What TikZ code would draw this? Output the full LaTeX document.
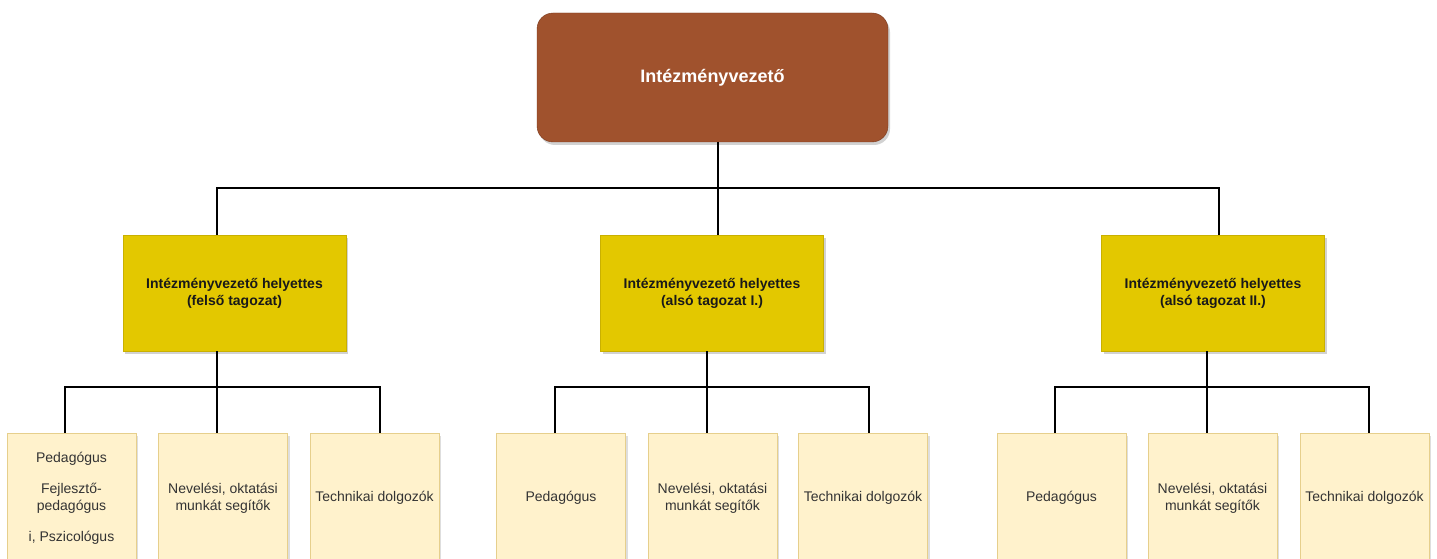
\documentclass[tikz,border=0pt]{standalone}
\usepackage{fontspec}
\setmainfont{Liberation Sans}
\usetikzlibrary{shadows}
\definecolor{sienna}{HTML}{A0522D}
\definecolor{siennaline}{HTML}{7A3A1E}
\definecolor{gold}{HTML}{E3C800}
\definecolor{goldline}{HTML}{C9B000}
\definecolor{cream}{HTML}{FFF2CC}
\definecolor{creamline}{HTML}{E6CF8C}
\definecolor{txt}{HTML}{333333}
\tikzset{
  topbox/.style={draw=siennaline, fill=sienna, rounded corners=16pt, minimum width=351pt, minimum height=129pt,
    text=white, font=\fontsize{18}{22}\selectfont\bfseries, align=center,
    drop shadow={shadow xshift=2pt, shadow yshift=-3pt, fill=black!35, opacity=0.5}},
  midbox/.style={draw=goldline, fill=gold, minimum width=223pt, minimum height=116pt,
    text=black!90, font=\fontsize{14}{17}\selectfont\bfseries, align=center,
    drop shadow={shadow xshift=2pt, shadow yshift=-3pt, fill=black!35, opacity=0.5}},
  subbox/.style={draw=creamline, fill=cream, minimum width=129pt, minimum height=130pt,
    text=txt, font=\fontsize{14}{17}\selectfont, align=center,
    drop shadow={shadow xshift=2pt, shadow yshift=-3pt, fill=black!25, opacity=0.5}},
  conn/.style={draw=black, line width=2pt}
}
\begin{document}
\begin{tikzpicture}[x=1pt,y=-1pt]
\clip (0,0) rectangle (1437,559);
\fill[white] (0,0) rectangle (1437,559);

\node[topbox] (top) at (712.5,77.5) {Intézményvezető};

\node[midbox] (m1) at (234.5,293) {Intézményvezető helyettes\\(felső tagozat)};
\node[midbox] (m2) at (712,293) {Intézményvezető helyettes\\(alsó tagozat I.)};
\node[midbox] (m3) at (1213,293) {Intézményvezető helyettes\\(alsó tagozat II.)};

\node[subbox] (b11) at (71.5,498) {Pedagógus\\[14pt]Fejlesztő-\\pedagógus\\[14pt]i, Pszicológus};
\node[subbox] (b12) at (223,498) {Nevelési, oktatási\\munkát segítők};
\node[subbox] (b13) at (374.5,498) {Technikai dolgozók};

\node[subbox] (b21) at (561,498) {Pedagógus};
\node[subbox] (b22) at (712.5,498) {Nevelési, oktatási\\munkát segítők};
\node[subbox] (b23) at (863,498) {Technikai dolgozók};

\node[subbox] (b31) at (1061.5,498) {Pedagógus};
\node[subbox] (b32) at (1212.5,498) {Nevelési, oktatási\\munkát segítők};
\node[subbox] (b33) at (1364.5,498) {Technikai dolgozók};

% main bus
\coordinate (bus) at (718,188);
\draw[conn] ([xshift=5.5pt]top.south) -- (bus);
\draw[conn] ([xshift=-17.8pt]m1.north) |- (bus) -| ([xshift=6pt]m3.north);
\draw[conn] (bus) -- ([xshift=6pt]m2.north);

% left sub bus
\coordinate (s1) at (216.7,387);
\draw[conn] ([xshift=-17.8pt]m1.south) -- (s1);
\draw[conn] ([xshift=-6.5pt]b11.north) |- (s1) -| ([xshift=5.5pt]b13.north);
\draw[conn] (s1) -- ([xshift=-6.3pt]b12.north);

% middle sub bus
\coordinate (s2) at (707,387);
\draw[conn] ([xshift=-5pt]m2.south) -- (s2);
\draw[conn] ([xshift=-6pt]b21.north) |- (s2) -| ([xshift=6pt]b23.north);
\draw[conn] (s2) -- ([xshift=-5.5pt]b22.north);

% right sub bus
\coordinate (s3) at (1207,387);
\draw[conn] ([xshift=-6pt]m3.south) -- (s3);
\draw[conn] ([xshift=-6.5pt]b31.north) |- (s3) -| ([xshift=4.5pt]b33.north);
\draw[conn] (s3) -- ([xshift=-5.5pt]b32.north);
\end{tikzpicture}
\end{document}
